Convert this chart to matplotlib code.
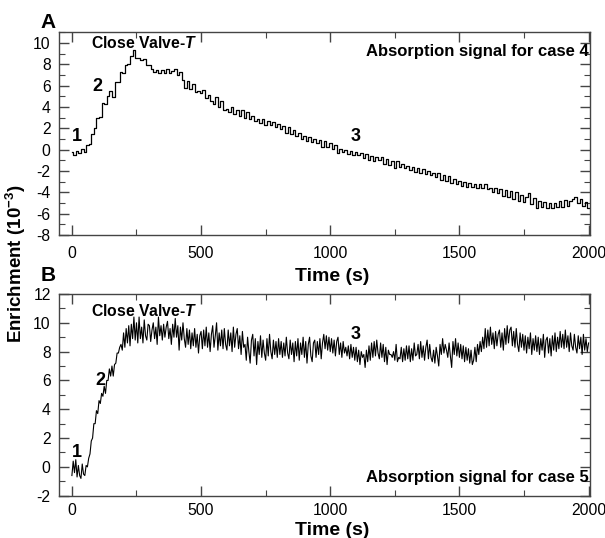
import numpy as np
import matplotlib
matplotlib.use("Agg")
import matplotlib.pyplot as plt
from matplotlib.ticker import MultipleLocator

plt.rcParams['font.family'] = ['Liberation Sans', 'DejaVu Sans']
plt.rcParams['axes.unicode_minus'] = False
plt.rcParams['mathtext.fontset'] = 'custom'
plt.rcParams['mathtext.rm'] = 'Liberation Sans:bold'
plt.rcParams['mathtext.it'] = 'Liberation Sans:italic:bold'
plt.rcParams['mathtext.bf'] = 'Liberation Sans:bold'

# case 4, sampled every 10 s (10^-3)
enrich_a = [
    -0.2, -0.5, -0.1, -0.3, 0.1, -0.2, 0.4, 0.5, 1.5, 2.0,
    3.0, 3.1, 4.4, 4.3, 5.0, 5.5, 4.9, 6.3, 6.3, 7.3,
    7.2, 7.9, 8.0, 8.8, 9.3, 8.6, 8.6, 8.4, 8.5, 7.9,
    7.9, 7.6, 7.3, 7.5, 7.2, 7.5, 7.2, 7.6, 7.2, 7.4,
    7.6, 7.0, 7.3, 6.5, 5.8, 6.4, 5.7, 6.2, 5.4, 5.5,
    5.3, 5.6, 4.8, 5.1, 4.6, 4.3, 4.9, 4.0, 4.6, 3.7,
    3.8, 3.5, 4.0, 3.3, 3.7, 3.2, 3.7, 3.0, 3.5, 2.9,
    3.2, 2.7, 2.9, 2.5, 2.9, 2.3, 2.7, 2.3, 2.6, 2.1,
    2.4, 1.9, 2.2, 1.6, 2.1, 1.5, 1.8, 1.3, 1.6, 1.0,
    1.3, 0.8, 1.2, 0.7, 1.0, 0.6, 0.9, 0.3, 0.8, 0.3,
    0.6, 0.1, 0.4, -0.3, 0.1, -0.2, 0.0, -0.4, -0.1, -0.5,
    -0.2, -0.5, -0.3, -0.8, -0.4, -1.0, -0.6, -1.1, -0.7, -1.0,
    -0.7, -1.3, -0.9, -1.4, -1.1, -1.7, -1.1, -1.6, -1.3, -1.7,
    -1.5, -1.9, -1.6, -2.1, -1.7, -2.2, -1.8, -2.3, -2.0, -2.4,
    -2.2, -2.6, -2.2, -2.8, -2.4, -2.9, -2.5, -3.1, -2.7, -3.2,
    -2.9, -3.4, -3.0, -3.5, -3.1, -3.5, -3.2, -3.6, -3.2, -3.6,
    -3.2, -3.7, -3.6, -4.0, -3.6, -4.1, -3.7, -4.3, -3.8, -4.4,
    -3.9, -4.6, -4.0, -4.8, -4.2, -4.9, -4.4, -4.1, -5.1, -4.5,
    -5.5, -4.8, -5.4, -4.9, -5.5, -5.0, -5.5, -5.0, -5.4, -4.8,
    -5.4, -4.7, -5.3, -4.8, -4.6, -4.4, -5.0, -4.6, -5.3, -4.9,
    -5.5,
]
time_a = np.arange(len(enrich_a)) * 10

# case 5, sampled every 5 s (10^-3)
enrich_b = [
    -0.6, 0.4, -0.4, 0.5, -0.7, 0.1, -0.6, -0.8, 0.2, -0.5, -0.6, 0.1, 0.0, 0.6, 0.9, 1.8, 2.0, 3.0, 3.0, 3.9,
    3.7, 4.6, 4.4, 5.1, 4.9, 5.6, 5.1, 6.0, 6.0, 6.8, 6.3, 7.0, 6.3, 7.1, 7.2, 7.9, 7.9, 8.3, 8.5, 8.1,
    9.3, 8.3, 9.6, 8.6, 9.8, 8.4, 9.9, 8.9, 10.4, 8.8, 10.0, 8.6, 10.4, 8.9, 9.7, 8.6, 10.2, 9.1, 8.8, 9.9,
    9.8, 8.7, 9.5, 10.0, 8.9, 9.7, 8.5, 10.4, 9.1, 9.8, 8.8, 9.9, 9.0, 9.7, 10.1, 8.9, 9.6, 8.5, 9.9, 9.0,
    10.3, 9.0, 9.8, 8.1, 9.7, 8.8, 10.0, 8.9, 8.3, 9.6, 8.5, 9.5, 8.2, 9.3, 8.4, 9.6, 8.3, 9.2, 7.9, 9.1,
    9.4, 8.2, 9.5, 8.4, 9.7, 8.3, 9.3, 8.0, 9.2, 9.8, 8.3, 9.1, 10.0, 8.1, 9.3, 8.4, 9.5, 8.2, 9.6, 8.5,
    8.1, 9.5, 8.4, 9.3, 8.0, 9.7, 8.3, 9.2, 9.6, 8.2, 9.1, 7.8, 9.4, 8.3, 8.5, 7.4, 9.0, 8.0, 7.2, 8.8,
    9.2, 7.7, 8.9, 7.1, 8.7, 7.8, 9.1, 7.6, 8.8, 7.9, 7.4, 8.9, 7.7, 9.2, 8.0, 7.5, 8.8, 7.8, 8.7, 7.6,
    8.9, 7.8, 8.7, 7.6, 8.6, 7.7, 9.0, 7.9, 7.5, 8.8, 7.8, 8.6, 7.3, 8.7, 7.7, 8.9, 7.4, 8.6, 7.8, 9.0,
    7.6, 8.7, 7.2, 8.5, 9.0, 7.7, 7.3, 8.6, 8.8, 7.6, 8.7, 7.8, 8.9, 7.5, 8.6, 9.2, 8.2, 9.1, 8.1, 9.0,
    8.0, 8.9, 7.9, 8.8, 7.7, 8.7, 9.0, 7.8, 8.6, 7.6, 8.7, 7.9, 8.3, 7.7, 8.4, 7.5, 8.5, 7.6, 8.3, 7.4,
    8.3, 7.3, 8.1, 7.1, 8.0, 7.6, 7.8, 6.9, 8.1, 7.3, 8.4, 7.4, 8.6, 7.6, 8.7, 7.7, 8.8, 7.9, 7.5, 8.6,
    7.6, 8.5, 7.3, 8.3, 7.1, 8.1, 7.8, 7.8, 7.6, 8.0, 7.4, 8.5, 7.3, 7.6, 7.5, 8.3, 7.3, 8.2, 7.4, 8.4,
    7.5, 8.4, 7.3, 8.2, 7.4, 8.6, 7.7, 7.8, 8.5, 7.5, 8.7, 7.6, 8.4, 7.4, 8.3, 8.8, 7.5, 8.5, 7.6, 7.3,
    8.1, 7.2, 8.3, 7.7, 7.0, 8.5, 7.8, 8.9, 7.9, 8.5, 8.1, 7.6, 8.6, 7.7, 6.9, 8.7, 7.8, 8.9, 7.7, 8.6,
    7.6, 8.5, 7.5, 8.4, 7.3, 8.3, 7.4, 8.2, 7.2, 8.1, 7.1, 7.4, 8.3, 7.3, 8.5, 7.8, 8.7, 8.0, 9.0, 8.2,
    9.6, 8.3, 9.5, 8.4, 9.7, 8.5, 9.3, 8.2, 9.4, 8.4, 9.2, 9.5, 8.3, 9.3, 8.1, 9.6, 8.5, 9.8, 8.6, 9.5,
    9.7, 8.4, 9.4, 8.3, 9.6, 8.5, 8.0, 9.3, 8.3, 9.2, 8.1, 9.1, 7.9, 9.0, 8.2, 9.3, 7.8, 8.9, 8.1, 9.1,
    8.0, 9.0, 7.8, 8.9, 8.1, 9.2, 7.6, 8.8, 9.0, 7.9, 8.9, 7.7, 9.1, 8.1, 9.3, 8.0, 9.0, 8.2, 9.4, 8.3,
    9.2, 8.2, 9.5, 8.3, 9.1, 8.0, 9.3, 8.4, 8.1, 9.2, 8.3, 7.9, 9.1, 8.2, 9.0, 7.8, 9.2, 8.1, 8.9, 8.0,
    8.6,
]
time_b = np.arange(len(enrich_b)) * 5

fig = plt.figure(figsize=(6.05, 5.38), dpi=100)
ax1 = fig.add_axes([0.0975, 0.563, 0.8775, 0.377])
ax2 = fig.add_axes([0.0975, 0.0786, 0.8775, 0.375])

ax1.plot(time_a, enrich_a, color='black', lw=0.9, drawstyle='steps-mid')
ax2.plot(time_b, enrich_b, color='black', lw=0.8)

ax1.set_ylim(-8, 11)
ax2.set_ylim(-2, 12)
for ax, xpad, ylab in ((ax1, 8, -0.202), (ax2, 5.5, -0.17)):
    ax.set_xlim(-50, 2005)
    ax.xaxis.set_major_locator(MultipleLocator(500))
    ax.xaxis.set_minor_locator(MultipleLocator(250))
    ax.yaxis.set_major_locator(MultipleLocator(2))
    ax.yaxis.set_minor_locator(MultipleLocator(1))
    ax.tick_params(which='both', direction='in', top=True, right=True,
                   labelsize=11.3, color='#444444')
    ax.tick_params(which='major', length=7, width=1)
    ax.tick_params(axis='x', which='major', pad=xpad)
    ax.tick_params(axis='y', which='major', pad=6)
    ax.tick_params(which='minor', length=4, width=0.8)
    for s in ax.spines.values():
        s.set_color('#444444')
        s.set_linewidth(1)
    ax.set_xlabel('Time (s)', fontsize=14, fontweight='bold')
    ax.xaxis.set_label_coords(0.515, ylab)
    ax.xaxis.label.set_verticalalignment('center')

bold = dict(fontweight='bold')
ax1.text(75, 10.0, 'Close Valve-$T$', fontsize=11.3, va='center', **bold)
ax1.text(2000, 9.2, 'Absorption signal for case 4', fontsize=12, ha='right', va='center', **bold)
ax1.text(20, 1.2, '1', fontsize=13, ha='center', va='center', **bold)
ax1.text(100, 5.9, '2', fontsize=13, ha='center', va='center', **bold)
ax1.text(1100, 1.2, '3', fontsize=13, ha='center', va='center', **bold)

ax2.text(75, 10.8, 'Close Valve-$T$', fontsize=11.3, va='center', **bold)
ax2.text(2000, -0.75, 'Absorption signal for case 5', fontsize=12, ha='right', va='center', **bold)
ax2.text(20, 1.0, '1', fontsize=13, ha='center', va='center', **bold)
ax2.text(110, 6.0, '2', fontsize=13, ha='center', va='center', **bold)
ax2.text(1100, 9.2, '3', fontsize=13, ha='center', va='center', **bold)

fig.text(0.079, 0.959, 'A', fontsize=15, ha='center', va='center', **bold)
fig.text(0.079, 0.487, 'B', fontsize=15, ha='center', va='center', **bold)
fig.text(0.027, 0.509, 'Enrichment (10$^{-3}$)', fontsize=13.5, rotation=90,
         ha='center', va='center', **bold)

fig.savefig('out.png', dpi=100)
